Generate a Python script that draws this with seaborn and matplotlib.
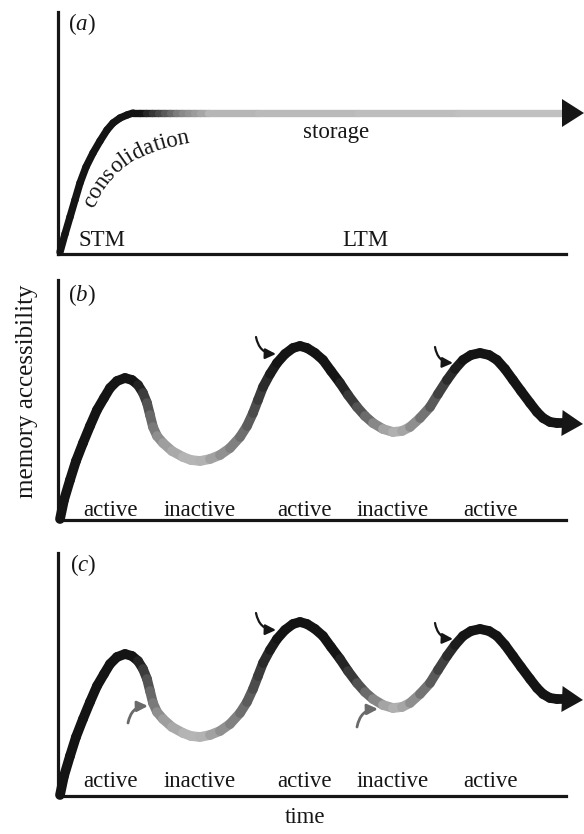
import numpy as np
import pandas as pd
import matplotlib
matplotlib.use("Agg")
import matplotlib.pyplot as plt
import seaborn as sns
from matplotlib.font_manager import FontProperties

# ---------------- data (arbitrary schematic units) ----------------
# panel (a): consolidation then storage
a_time = [2, 7, 12, 17, 22, 28, 35, 42, 49, 55, 62, 69, 75, 82, 88, 94, 100,
          106, 112, 118, 124, 130, 136, 142, 150, 200, 300, 400, 504, 526]
a_access = [2, 20, 37, 54, 71, 87, 101, 113, 124, 131, 136, 139, 141, 141, 141,
            141, 141, 141, 141, 141, 141, 141, 141, 141, 141, 141, 141, 141, 141, 141]

# panels (b) and (c): oscillating accessibility
bc_time = [2, 6, 12, 18, 25, 32, 39, 46, 52, 59, 67, 74, 80, 85, 89, 92, 95, 99,
           105, 114, 125, 133, 142, 152, 162, 172, 182, 189, 195, 200, 205, 212,
           219, 227, 235, 242, 249, 257, 265, 273, 282, 290, 299, 307, 315, 325,
           335, 344, 352, 362, 372, 380, 389, 397, 405, 413, 422, 431, 439, 447,
           455, 463, 472, 479, 485, 492, 499, 504, 525]
bc_access = [1, 20, 40, 59, 77, 94, 110, 122, 132, 139, 142, 140, 135, 127, 117,
             105, 93, 84, 77, 69, 63, 60, 59, 61, 65, 72, 83, 94, 107, 120, 133,
             146, 157, 166, 172, 174, 172, 167, 160, 149, 137, 125, 113, 104, 97,
             91, 88, 89, 93, 102, 113, 126, 140, 151, 160, 165, 167, 165, 160,
             151, 140, 129, 117, 108, 102, 98, 97, 97, 96]

# retrieval cue arrows (tail -> head)
cue_black_tail = [(198, 183), (377, 173)]
cue_black_head = [(218, 166), (395, 157)]
cue_gray_tail = [(70, 73), (299, 69)]
cue_gray_head = [(90, 90), (320, 87)]

phase_labels = ["active", "inactive", "active", "inactive", "active"]
phase_pos = [53, 142, 246, 335, 432]

# baseline that the word "consolidation" follows in panel (a)
word_path_x = [35, 42, 50, 59, 69, 80, 92, 105, 120, 137]
word_path_y = [45, 58, 70, 81, 89, 96, 101, 105, 109, 112]

# ---------------- style ----------------
sns.set_theme(style="white")
plt.rcParams["font.family"] = ["Liberation Serif", "DejaVu Serif"]
plt.rcParams["mathtext.fontset"] = "custom"
plt.rcParams["mathtext.rm"] = "Liberation Serif"
plt.rcParams["mathtext.it"] = "Liberation Serif:italic"
FS = 16.5
INK = "#161616"

W, H = 584, 834
fig = plt.figure(figsize=(W / 100, H / 100), dpi=100)
fig.patch.set_facecolor("white")


def make_axes(top, bottom):
    ax = fig.add_axes([58 / W, 1 - bottom / H, 508 / W, (bottom - top) / H])
    ax.set_xlim(0, 508)
    ax.set_ylim(0, bottom - top)
    ax.set_facecolor("white")
    for s in ["top", "right"]:
        ax.spines[s].set_visible(False)
    for s in ["left", "bottom"]:
        ax.spines[s].set_linewidth(2.3)
        ax.spines[s].set_color(INK)
    ax.set_xticks([])
    ax.set_yticks([])
    return ax


ax_a = make_axes(12, 254)
ax_b = make_axes(280, 520)
ax_c = make_axes(553, 796)


def gradient_line(ax, xs, ys, stop_x, stop_g, lw):
    xs = np.asarray(xs, float)
    ys = np.asarray(ys, float)
    rows = []
    pal = {}
    for i in range(len(xs) - 1):
        key = f"s{i:03d}"
        rows.append((xs[i], ys[i], key))
        rows.append((xs[i + 1], ys[i + 1], key))
        g = float(np.interp(0.5 * (xs[i] + xs[i + 1]), stop_x, stop_g))
        pal[key] = (g, g, g)
    df = pd.DataFrame(rows, columns=["time", "access", "seg"])
    sns.lineplot(data=df, x="time", y="access", hue="seg", palette=pal,
                 legend=False, sort=False, estimator=None, linewidth=lw,
                 solid_capstyle="round", ax=ax, clip_on=False, zorder=3)
    ax.set_xlabel("")
    ax.set_ylabel("")


def arrow_head(ax, base, tip, half_w):
    tr = ax.transData
    p0 = tr.transform(base)
    p1 = tr.transform(tip)
    d = (p1 - p0) / np.linalg.norm(p1 - p0)
    n = np.array([-d[1], d[0]])
    tri = np.array([p1, p0 + n * half_w, p0 - n * half_w])
    tri_d = tr.inverted().transform(tri)
    ax.fill(tri_d[:, 0], tri_d[:, 1], color=INK, clip_on=False, zorder=4,
            lw=0)


def cue(ax, tail, head, color, rad, lw):
    ax.annotate("", xy=head, xytext=tail,
                arrowprops=dict(arrowstyle="-|>,head_length=0.45,head_width=0.22",
                                connectionstyle=f"arc3,rad={rad}",
                                color=color, lw=lw, mutation_scale=14,
                                shrinkA=0, shrinkB=0),
                annotation_clip=False, zorder=5)


# ---------------- panel (a) ----------------
gradient_line(ax_a, a_time[:-1], a_access[:-1],
              [0, 85, 102, 125, 149, 180, 526],
              [0.08, 0.08, 0.27, 0.53, 0.67, 0.72, 0.76], 5.3)
arrow_head(ax_a, (a_time[-2], a_access[-2]), (a_time[-1], a_access[-1]), 14)

ax_a.text(10, 230, r"($a$)", fontsize=FS, va="center", ha="left", color=INK)
ax_a.text(44, 8, "STM", fontsize=FS, ha="center", va="baseline", color=INK)
ax_a.text(307, 8, "LTM", fontsize=FS, ha="center", va="baseline", color=INK)
ax_a.text(278, 116, "storage", fontsize=FS, ha="center", va="baseline", color=INK)

# "consolidation" written along the rising curve
fig.canvas.draw()
renderer = fig.canvas.get_renderer()
prop = FontProperties(family="Liberation Serif", size=FS)
pts = ax_a.transData.transform(np.column_stack([word_path_x, word_path_y]))
seg = np.diff(pts, axis=0)
seglen = np.hypot(seg[:, 0], seg[:, 1])
cum = np.concatenate([[0], np.cumsum(seglen)])
seg_ang = np.degrees(np.arctan2(seg[:, 1], seg[:, 0]))
node_ang = np.concatenate([[seg_ang[0]], 0.5 * (seg_ang[:-1] + seg_ang[1:]),
                           [seg_ang[-1]]])
word = "consolidation"
for i, ch in enumerate(word):
    w_pre = renderer.get_text_width_height_descent(word[:i], prop, ismath=False)[0] if i else 0.0
    w_ch = renderer.get_text_width_height_descent(ch, prop, ismath=False)[0]
    s = w_pre + w_ch / 2
    px = np.interp(s, cum, pts[:, 0])
    py = np.interp(s, cum, pts[:, 1])
    ang = float(np.interp(s, cum, node_ang))
    p_d = ax_a.transData.inverted().transform((px, py))
    ax_a.text(p_d[0], p_d[1], ch, fontproperties=prop, rotation=ang,
              rotation_mode="anchor", ha="center", va="baseline", color=INK)

# ---------------- panels (b) and (c) ----------------
bc_stop_x = [0, 80, 89, 95, 105, 130, 145, 162, 172, 182, 195, 205, 219, 280,
             299, 315, 335, 345, 372, 389, 405, 530]
bc_stop_g = [0.08, 0.08, 0.28, 0.45, 0.6, 0.71, 0.71, 0.6, 0.53, 0.47, 0.33,
             0.2, 0.08, 0.08, 0.27, 0.47, 0.7, 0.68, 0.4, 0.2, 0.08, 0.08]

for ax, base_y_lab in [(ax_b, 4), (ax_c, 9)]:
    gradient_line(ax, bc_time[:-1], bc_access[:-1], bc_stop_x, bc_stop_g, 7.0)
    arrow_head(ax, (bc_time[-2], bc_access[-2]), (bc_time[-1], bc_access[-1]), 13)
    for lab, xp in zip(phase_labels, phase_pos):
        ax.text(xp, base_y_lab, lab, fontsize=FS, ha="center", va="baseline",
                color=INK)
    for t, h in zip(cue_black_tail, cue_black_head):
        cue(ax, t, h, INK, 0.4, 1.6)

ax_b.text(10, 225, r"($b$)", fontsize=FS, va="center", ha="left", color=INK)
ax_c.text(12, 231, r"($c$)", fontsize=FS, va="center", ha="left", color=INK)
for t, h in zip(cue_gray_tail, cue_gray_head):
    cue(ax_c, t, h, "#6a6a6a", -0.4, 2.0)

fig.text(27 / W, 1 - 391 / H, "memory accessibility", rotation=90,
         fontsize=18, ha="center", va="center", color=INK)
fig.text(305 / W, 11 / H, "time", fontsize=FS, ha="center", va="baseline",
         color=INK)

fig.savefig("out.png", dpi=100, facecolor="white")
